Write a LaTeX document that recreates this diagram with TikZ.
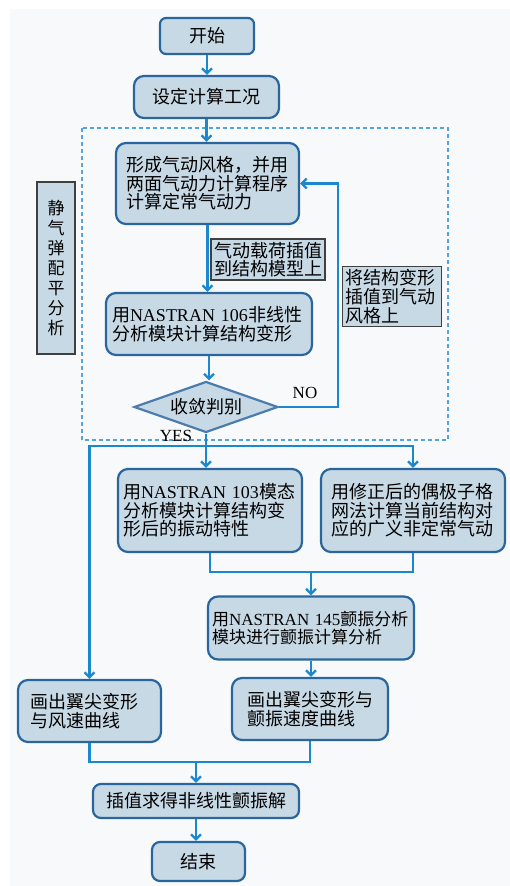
\documentclass[tikz,border=0pt]{standalone}
\usepackage{fontspec}
\setmainfont{Noto Sans CJK SC}
\newfontfamily\enfont{Liberation Serif}
\usepackage{tikz}
\usetikzlibrary{shapes.geometric,arrows.meta}
\definecolor{boxfill}{RGB}{200,217,230}
\definecolor{boxline}{RGB}{42,102,158}
\definecolor{flowline}{RGB}{27,135,207}
\definecolor{pagegray}{RGB}{248,249,250}

\begin{document}
\begin{tikzpicture}[x=1pt,y=-1pt,font=\fontsize{18}{18.6}\selectfont,
  proc/.style={draw=boxline,fill=boxfill,line width=2.2pt,rounded corners=10pt,inner ysep=3pt},
  note/.style={draw=black!75,fill=boxfill,line width=1.8pt,inner xsep=3pt,inner ysep=3pt,align=left},
  flow/.style={draw=flowline,line width=2.3pt},
  >={Straight Barb[length=5pt,width=10pt]}]
\useasboundingbox (0,0) rectangle (510,886);
\fill[white] (0,0) rectangle (510,886);
\fill[pagegray] (10,9) rectangle (510,886);
\draw[flowline!75,line width=1.4pt,dash pattern=on 4pt off 3pt] (82,128) rectangle (448,440);

\node[proc,rounded corners=6pt,minimum width=94,minimum height=36] (start) at (207,36) {开始};
\node[proc,minimum width=145,minimum height=42] (setup) at (206.5,97) {设定计算工况};
\node[proc,minimum height=81,text width=162,inner xsep=10.5pt,align=left] (grid) at (207.5,183.5)
  {形成气动风格，并用\\两面气动力计算程序\\计算定常气动力};
\node[note,text width=108] (loadmap) at (268,259.5) {气动载荷插值\\到结构模型上};
\node[proc,minimum height=62,text width=194,inner xsep=6pt,align=left] (deform) at (209,324)
  {用{\enfont NASTRAN 106}非线性\\分析模块计算结构变形};
\node[draw=boxline!85,fill=boxfill,line width=2.2pt,shape=diamond,aspect=2.8,inner sep=0pt,
  minimum width=144,minimum height=51] (judge) at (206,407) {收敛判别};
\node[note,text width=93] (backmap) at (392,296.5) {将结构变形\\插值到气动\\风格上};
\node[note,text width=20,inner xsep=9pt,minimum height=172,align=center,
  font=\fontsize{17}{20}\selectfont] (static) at (56,268) {静\\气\\弹\\配\\平\\分\\析};
\node[font=\enfont\fontsize{17}{18}\selectfont] (nolabel) at (305,393) {NO};
\node[font=\enfont\fontsize{17}{18}\selectfont] (yeslabel) at (176,436) {YES};

\node[proc,minimum height=83,text width=174,inner xsep=5pt,align=left] (mode) at (210,510.5)
  {用{\enfont NASTRAN 103}模态\\分析模块计算结构变\\形后的振动特性};
\node[proc,minimum height=83,text width=163,inner xsep=10.5pt,align=left] (dipole) at (413,510.5)
  {用修正后的偶极子格\\网法计算当前结构对\\应的广义非定常气动};
\node[proc,minimum height=63,text width=198,inner xsep=4pt,align=left,
  font=\fontsize{17}{18.6}\selectfont] (flutter) at (311,628)
  {用{\enfont NASTRAN 145}颤振分析\\模块进行颤振计算分析};
\node[proc,minimum height=62,text width=126,inner xsep=15pt,align=left] (speed) at (310,709)
  {画出翼尖变形与\\颤振速度曲线};
\node[proc,minimum height=62,text width=119,inner xsep=12pt,align=left] (wind) at (89.5,711)
  {画出翼尖变形\\与风速曲线};
\node[proc,rounded corners=8pt,minimum width=206,minimum height=34] (interp) at (196,801) {插值求得非线性颤振解};
\node[proc,rounded corners=8pt,minimum width=93,minimum height=39] (finish) at (198.5,861.5) {结束};

\coordinate (noturn) at (338,407);
\coordinate (split) at (207,446);
\coordinate (join) at (311,572);
\coordinate (merge) at (196,762);

\draw[flow,->] (start) -- (start |- setup.north);
\draw[flow,->] (setup.south) -- (setup.south |- grid.north);
\draw[flow,->] (grid.south) -- (grid.south |- deform.north);
\draw[flow,->] (deform.south) -- (deform.south |- judge.north);
\draw[flow,->] (judge.east) -- (noturn) |- (grid.east);
\draw[flow,->] (judge.south) -- (judge.south |- mode.north);
\draw[flow,->] (split) -| (wind.north);
\draw[flow,->] (split) -| (dipole.north);
\draw[flow] (mode.south) |- (join) -| (dipole.south);
\draw[flow,->] (join) -- (flutter.north);
\draw[flow,->] (flutter.south) -- (flutter.south |- speed.north);
\draw[flow] (wind.south) |- (merge) -| (speed.south);
\draw[flow,->] (merge) -- (interp.north);
\draw[flow,->] (interp.south) -- (interp.south |- finish.north);
\end{tikzpicture}
\end{document}
